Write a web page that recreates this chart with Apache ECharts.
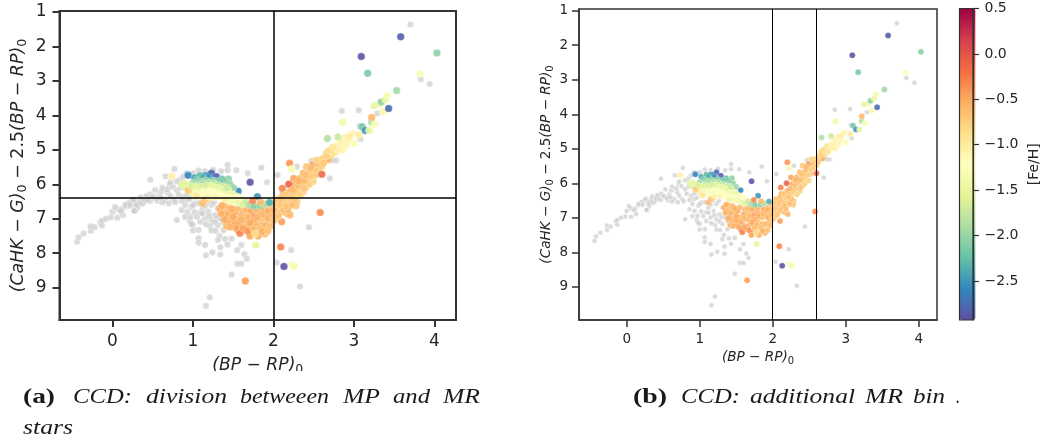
<!DOCTYPE html>
<html>
<head>
<meta charset="utf-8">
<title>CCD</title>
<script src="https://cdn.jsdelivr.net/npm/echarts@6/dist/echarts.min.js"></script>
<style>
html, body { margin: 0; padding: 0; background: #fff; }
#main { width: 1042px; height: 444px; }
</style>
</head>
<body>
<div id="main"></div>
<script>
// stars without a metallicity, [BP-RP, CaHK-G-2.5(BP-RP)]
var greyLeft = [
    [-0.44,7.67],[-0.42,7.54],[-0.36,7.43],[-0.27,7.35],[-0.27,7.22],[-0.22,7.25],[-0.15,7.10],[-0.13,7.20],
    [-0.13,7.06],[-0.02,6.96],[0.06,6.97],[0.13,6.89],[0.00,6.80],[0.06,6.72],[0.12,6.72],[0.03,6.66],
    [0.18,6.63],[0.28,6.77],[0.31,6.67],[0.24,6.50],[0.37,6.57],[0.34,6.46],[0.42,6.34],[0.47,6.48],
    [0.56,6.48],[0.47,5.87],[0.53,6.17],[0.20,6.55],[0.29,6.52],[0.35,6.38],[0.47,6.30],[0.58,6.33],
    [0.52,6.40],[0.27,6.77],[0.38,6.53],[0.65,6.46],[0.55,6.42],[0.42,6.36],[0.34,6.55],
    [0.10,6.78],[0.16,6.60],[0.22,6.62],[0.26,6.44],[0.30,6.60],[0.40,6.44],[0.44,6.46],[0.50,6.36],
    [0.62,6.52],[-0.08,7.00]
];
var greyMiddle = [
    [0.77,5.56],[0.66,5.77],[0.86,6.75],[0.80,7.04],[0.76,6.46],[0.92,6.46],[0.69,6.26],[0.61,6.21],
    [0.71,6.02],[0.80,6.17],[0.84,5.87],[0.92,5.68],[1.07,5.60],[1.09,5.73],[0.88,6.36],[0.98,6.65],
    [1.03,6.55],[0.96,7.06],[0.97,6.94],[1.02,6.81],[1.09,6.84],[1.19,6.80],[1.15,6.99],[1.23,7.04],
    [1.31,7.18],[1.09,7.09],[1.21,7.21],[1.38,7.33],[1.23,6.60],[1.31,6.70],[1.00,7.18],[1.00,7.34],
    [1.07,7.33],[1.23,7.34],[1.28,7.35],[1.33,7.50],[1.31,7.62],[1.40,7.59],[1.48,7.58],[1.07,7.57],
    [1.07,7.70],[1.15,7.76],[1.43,7.75],[1.34,7.83],[1.34,8.04],[1.24,7.98],[1.16,8.06],[1.55,7.91],
    [1.60,7.76],[1.64,8.03],[1.67,8.16],[1.55,8.31],[1.60,8.31],[1.48,8.62],[1.21,9.28],[1.16,9.53],
    [0.90,6.60],[1.12,6.70],[1.27,6.90],[1.05,6.95],[0.93,6.30],[0.72,6.35],[0.85,6.10],[1.38,7.10],
    [0.62,6.10],[0.68,6.15],[0.75,6.08],[0.82,6.30],[0.78,6.52],[0.86,6.48],[0.70,6.55],[0.60,6.40],
    [0.96,6.42],[1.00,6.60],[1.08,6.55],[1.15,6.62],[1.12,6.85],[1.20,6.92],[1.30,6.98],[0.93,6.80],
    [0.98,7.15],[0.90,6.95],[1.16,7.16],[1.27,7.10],[1.35,7.00],[1.42,7.25],[1.18,6.50],[1.26,6.52],
    [0.72,5.95],[0.80,5.92],[0.88,5.78],[1.00,5.68],[1.15,5.62],[1.25,5.58],[1.35,5.62]
];
var greyRight = [
    [1.43,5.44],[1.43,5.59],[1.54,5.59],[1.68,5.68],[1.85,5.52],[1.92,5.94],[2.05,5.73],[2.29,5.49],
    [2.47,5.32],[2.70,5.83],[2.78,5.31],[2.44,7.25],[2.22,7.91],[2.04,8.27],[2.33,8.97],[2.74,5.30],
    [2.85,3.87],[3.06,3.85],[3.07,4.31],[3.08,4.69],[3.29,3.94],[3.70,1.36],[3.83,2.95],[3.94,3.09]
];
// stars with a metallicity, [BP-RP, CaHK-G-2.5(BP-RP), [Fe/H]]
var capStars = [
    [0.735,5.77,-1.05],[0.94,5.74,-2.6],[1.02,5.81,-2.4],[1.09,5.75,-2.3],[1.15,5.75,-2.55],[1.19,5.75,-2.6],
    [1.23,5.68,-2.75],[1.29,5.78,-2.85],[1.13,5.85,-2.25],[1.05,5.88,-2.2],[1.21,5.85,-2.4],[1.27,5.90,-2.3],
    [1.44,5.85,-2.05],[1.40,5.93,-2.1],[1.46,6.00,-2.0],[1.71,5.94,-2.9],[1.56,6.20,-2.6],[1.80,6.36,-2.5],
    [1.20,5.80,-2.5],[1.12,5.80,-2.35],[1.36,5.85,-2.2],[1.33,5.92,-2.15],[1.24,5.90,-2.1],[1.16,5.90,-2.05],
    [1.08,5.92,-2.0],[1.50,6.10,-2.0],
    [0.86,6.02,-1.6],[0.89,6.07,-1.6],[0.94,6.02,-1.65],[1.00,5.97,-1.95],[1.07,6.02,-1.8],[1.13,5.97,-1.9],
    [1.19,5.97,-1.85],[1.25,5.97,-1.8],[1.31,6.02,-1.75],[1.38,6.07,-1.7],[1.44,6.17,-1.6],[0.96,6.17,-1.5],
    [1.02,6.12,-1.6],[1.09,6.17,-1.5],[1.15,6.12,-1.55],[1.21,6.12,-1.45],[1.27,6.17,-1.4],[1.34,6.22,-1.35],
    [1.40,6.26,-1.4],[1.46,6.29,-1.5],[1.17,6.26,-1.3],[1.23,6.29,-1.25],[1.29,6.31,-1.25],[1.11,6.31,-1.3],
    [1.36,6.36,-1.3],[1.00,6.26,-1.0],[0.94,6.17,-0.7],[1.12,6.55,-0.6],[1.15,6.46,-0.65],[1.18,6.42,-0.75],
    [0.90,5.98,-1.55],[0.98,6.05,-1.65],[1.04,6.08,-1.55],[1.11,6.07,-1.6],[1.17,6.05,-1.65],[1.23,6.05,-1.55],
    [1.30,6.10,-1.5],[1.36,6.15,-1.5],[1.42,6.10,-1.7],[1.50,6.30,-1.5],[1.55,6.36,-1.3],[1.60,6.42,-1.25],
    [1.05,6.24,-1.35],[1.13,6.22,-1.3],[1.20,6.20,-1.25],[1.27,6.25,-1.2],[1.33,6.30,-1.2],
    [1.40,6.40,-1.2],[1.46,6.40,-1.25],[1.20,6.36,-1.1],[1.28,6.38,-1.1],[1.04,6.35,-0.95],[1.40,6.48,-1.0]
];
var orangeStars = [
    [1.335,6.70,-0.52],[1.397,6.65,-0.6],[1.376,6.80,-0.55],[1.439,6.75,-0.62],[1.418,6.94,-0.52],[1.480,6.84,-0.6],
    [1.459,7.04,-0.55],[1.418,7.21,-0.6],[1.501,7.18,-0.52],[1.563,7.33,-0.22],[1.583,7.18,-0.48],[1.542,6.99,-0.6],
    [1.604,6.89,-0.52],[1.666,6.84,-0.62],[1.646,7.04,-0.52],[1.708,6.99,-0.6],[1.666,7.23,-0.55],[1.728,7.18,-0.48],
    [1.790,7.09,-0.62],[1.853,6.99,-0.66],[1.915,6.89,-0.62],[1.977,6.84,-0.66],[1.853,7.18,-0.6],[1.894,7.33,-0.7],
    [1.790,7.33,-0.85],[1.728,7.42,-0.34],[1.810,7.50,-0.55],[1.708,7.50,-0.48],[1.646,7.33,-0.52],[1.583,7.42,-0.3],
    [1.894,7.44,-0.62],[1.956,7.09,-0.6],[2.018,6.99,-0.66],[1.790,6.84,-0.52],[1.873,6.75,-0.48],[1.935,6.70,-0.6],
    [1.977,6.60,-0.66],[2.039,6.70,-0.6],[2.080,6.60,-0.62],[2.039,6.84,-0.7],[2.101,6.80,-0.62],[2.163,6.65,-0.52],
    [2.225,6.55,-0.66],[2.287,6.51,-0.7],[2.122,6.46,-0.66],[2.205,6.36,-0.6],[2.101,7.09,-0.45],[2.163,6.84,-0.66],
    [2.205,6.89,-0.6],[1.52,6.80,-0.48],[1.62,6.75,-0.6],[1.74,6.92,-0.45],[1.84,6.88,-0.52],[1.50,7.08,-0.48],
    [1.36,6.62,-0.55],[1.45,6.66,-0.6],[1.55,6.70,-0.6],[1.48,6.72,-0.54],[1.42,6.86,-0.58],[1.50,6.95,-0.52],
    [1.44,7.10,-0.6],[1.56,7.12,-0.54],[1.60,7.02,-0.58],[1.68,6.95,-0.6],[1.75,7.05,-0.52],[1.80,6.95,-0.55],
    [1.87,6.88,-0.6],[1.93,6.98,-0.54],[1.98,6.92,-0.6],[1.71,7.12,-0.52],[1.78,7.22,-0.56],[1.62,7.28,-0.48],
    [1.68,7.36,-0.4],[1.75,7.30,-0.62],[1.84,7.28,-0.66],[1.90,7.18,-0.6],[1.96,7.22,-0.64],[2.00,7.05,-0.68],
    [1.86,7.38,-0.54],[1.77,7.44,-0.85],[1.93,7.36,-0.66],[1.53,7.26,-0.5],[1.46,7.24,-0.56],[1.39,7.02,-0.52],
    [1.35,6.85,-0.54],[1.66,6.72,-0.6],[1.72,6.75,-0.5],[1.79,6.72,-0.58],
    [1.93,6.78,-0.54],[2.00,6.74,-0.6],[2.06,6.92,-0.68],[2.12,6.72,-0.64],[2.18,6.74,-0.6],[2.10,6.55,-0.54],
    [2.16,6.52,-0.68],[2.25,6.45,-0.62],[2.28,6.62,-0.7],[2.02,6.56,-0.6]
];
var arcStars = [
    [1.46,6.50,-1.35],[1.52,6.48,-1.4],[1.56,6.54,-1.45],[1.62,6.58,-1.6],[1.66,6.52,-1.7],[1.70,6.60,-1.9],
    [1.76,6.62,-2.1],[1.83,6.62,-2.05],[1.88,6.58,-1.9],[1.95,6.53,-2.35],[1.74,6.48,-0.3],[1.84,6.52,-0.6]
];
var bandStars = [
    [2.04,6.46,-0.7],[2.08,6.60,-0.72],[2.16,6.65,-0.68],[2.23,6.60,-0.65],[2.12,6.31,-0.45],[2.18,6.41,-0.75],
    [2.20,6.22,-0.55],[2.25,6.31,-0.72],[2.31,6.17,-0.62],[2.37,6.22,-0.78],[2.27,6.02,-0.5],[2.35,5.97,-0.62],
    [2.41,6.07,-0.72],[2.33,5.83,-0.58],[2.43,5.83,-0.68],[2.49,5.92,-0.78],[2.37,5.68,-0.62],[2.45,5.63,-0.58],
    [2.52,5.73,-0.68],[2.41,5.49,-0.7],[2.49,5.44,-0.42],[2.56,5.54,-0.65],[2.60,5.71,-0.15],[2.58,5.30,-0.7],
    [2.64,5.20,-0.8],[2.68,5.28,-0.52],[2.68,5.05,-0.76],[2.72,5.15,-0.82],[2.62,5.25,-0.76],[2.66,5.10,-0.82],
    [2.76,4.96,-1.05],[2.80,4.86,-1.1],[2.84,4.86,-1.05],[2.86,5.00,-1.1],[2.89,4.65,-1.05],[2.92,4.76,-1.1],
    [3.00,4.81,-1.3],[2.98,4.53,-1.1],[3.06,4.57,-1.0],[2.20,5.39,-0.4],[2.225,5.56,-1.35],[2.19,6.00,-0.1],
    [2.11,6.12,-0.3],[2.25,5.83,-0.5],
    [2.10,6.40,-0.66],[2.15,6.30,-0.72],[2.22,6.40,-0.7],[2.28,6.24,-0.72],[2.33,6.32,-0.78],[2.24,6.15,-0.58],
    [2.30,6.05,-0.66],[2.38,6.12,-0.68],[2.44,6.00,-0.76],[2.38,5.90,-0.62],[2.31,5.90,-0.55],[2.47,5.76,-0.72],
    [2.40,5.74,-0.66],[2.52,5.60,-0.72],[2.46,5.52,-0.62],[2.55,5.40,-0.6],[2.60,5.48,-0.75],[2.53,5.30,-0.78],
    [2.62,5.38,-0.7],[2.66,5.18,-0.78],[2.70,5.02,-0.85],[2.76,5.08,-0.9],[2.80,4.98,-1.05],[2.74,4.92,-0.95],
    [2.90,4.88,-1.1],[2.94,4.62,-1.0],[2.84,4.74,-1.08]
];
var upperStars = [
    [2.67,4.67,-1.85],[2.80,4.63,-1.7],[2.86,4.20,-1.4],[3.10,4.33,-2.15],[3.14,4.44,-2.5],[3.19,4.44,-1.5],
    [3.22,4.20,-1.9],[3.26,4.26,-1.3],[3.22,4.06,-0.6],[3.36,3.89,-1.1],[3.43,3.80,-2.75],[3.25,3.72,-1.55],
    [3.31,3.67,-1.45],[3.34,3.61,-2.05],[3.39,3.54,-1.5],[3.41,3.43,-1.35],[3.53,3.28,-1.95],[3.82,2.79,-1.3],
    [3.17,2.78,-2.15],[4.03,2.19,-2.05],[3.09,2.29,-2.9],[3.58,1.72,-2.85]
];
var lowerStars = [
    [1.78,7.76,-1.55],[2.09,7.82,-0.3],[2.13,8.39,-2.9],[2.23,8.34,-1.3],[2.26,8.39,-1.35],[1.65,8.81,-0.45],[2.58,6.82,-0.35]
];

var xTicks = [0, 1, 2, 3, 4];
var yTicks = [1, 2, 3, 4, 5, 6, 7, 8, 9];
var fehTicks = [0.5, 0, -0.5, -1, -1.5, -2, -2.5];
var fehColors = ['#5e4fa2', '#3288bd', '#66c2a5', '#abdda4', '#e6f598', '#ffffbf', '#fee08b', '#fdae61', '#f46d43', '#d53e4f', '#9e0142'];
var splitAY = 6.4;
var splitAX = [2];
var splitBX = [2, 2.6];

var greyStars = greyLeft.concat(greyMiddle, greyRight);
var colorStars = capStars.concat(orangeStars, arcStars, bandStars, upperStars, lowerStars);

var textColor = '#262626';
var lineColor = '#333333';

function mathName(size, subSize, parts) {
    return {
        text: parts,
        rich: {
            i: { fontFamily: 'DejaVu Sans', fontStyle: 'italic', fontSize: size, color: textColor },
            r: { fontFamily: 'DejaVu Sans', fontSize: size, color: textColor },
            s: { fontFamily: 'DejaVu Sans', fontSize: subSize, color: textColor, padding: [size * 0.55, 0, 0, 0] }
        }
    };
}

function xAxisOf(gridIndex, min, max, tickSize, nameText, nameGap, lw, margin) {
    return {
        type: 'value', gridIndex: gridIndex, min: min, max: max, position: 'bottom',
        name: nameText.text, nameLocation: 'middle', nameGap: nameGap,
        nameTextStyle: { rich: nameText.rich },
        splitLine: { show: false },
        axisLine: { onZero: false, lineStyle: { color: lineColor, width: lw } },
        axisTick: { customValues: xTicks, length: 7, lineStyle: { color: lineColor, width: lw } },
        axisLabel: { customValues: xTicks, fontFamily: 'DejaVu Sans', fontSize: tickSize, color: textColor, margin: margin }
    };
}

function yAxisOf(gridIndex, min, max, tickSize, nameText, nameGap, lw, margin) {
    return {
        type: 'value', gridIndex: gridIndex, min: min, max: max, inverse: true, position: 'left',
        name: nameText.text, nameLocation: 'middle', nameGap: nameGap, nameRotate: 90,
        nameTextStyle: { rich: nameText.rich },
        splitLine: { show: false },
        axisLine: { onZero: false, lineStyle: { color: lineColor, width: lw } },
        axisTick: { customValues: yTicks, length: 7, lineStyle: { color: lineColor, width: lw } },
        axisLabel: {
            customValues: yTicks, fontFamily: 'DejaVu Sans', fontSize: tickSize, color: textColor, margin: margin,
            verticalAlignMinLabel: 'middle', verticalAlignMaxLabel: 'middle'
        }
    };
}

function starSeries(axisIndex, greySize, colorSize, vLines, hLine, lw) {
    var lines = vLines.map(function (v) { return { xAxis: v }; });
    if (hLine !== null) {
        lines.push({ yAxis: hLine });
    }
    return [
        {
            type: 'scatter', xAxisIndex: axisIndex, yAxisIndex: axisIndex, data: greyStars, symbolSize: greySize,
            itemStyle: { color: '#cccccc', opacity: 0.7, borderColor: '#fff', borderWidth: 0.6 },
            emphasis: { disabled: true }, z: 2
        },
        {
            type: 'scatter', xAxisIndex: axisIndex, yAxisIndex: axisIndex, data: colorStars, symbolSize: colorSize,
            itemStyle: { opacity: 0.9, borderColor: '#fff', borderWidth: 0.3 },
            emphasis: { disabled: true }, z: 3,
            markLine: {
                silent: true, symbol: 'none', animation: false, label: { show: false }, z: 5,
                lineStyle: { color: '#000', width: lw, type: 'solid' },
                data: lines
            }
        }
    ];
}

var xNameA = mathName(17.2, 12.5, '{i|(BP − RP)}{s|0}');
var yNameA = mathName(17.4, 12.8, '{i|(CaHK − G)}{s|0}{r| − 2.5}{i|(BP − RP)}{s|0}');
var xNameB = mathName(13.6, 10, '{i|(BP − RP)}{s|0}');
var yNameB = mathName(13.6, 10, '{i|(CaHK − G)}{s|0}{r| − 2.5}{i|(BP − RP)}{s|0}');

var measureCtx = document.createElement('canvas').getContext('2d');

// the caption words are stretched to the widths they have in the typeset line
function captionWord(text, x, y, right, bold) {
    var font = (bold ? 'bold' : 'italic') + ' 22px "Liberation Serif"';
    measureCtx.font = font;
    return {
        type: 'text', x: x, y: y, z: 20, scaleX: (right - x) / measureCtx.measureText(text).width,
        style: { text: text, fill: '#1a1a1a', font: font, textVerticalAlign: 'bottom' }
    };
}

var myChart = echarts.init(document.getElementById('main'), null, { renderer: 'canvas' });

var option = {
    animation: false,
    backgroundColor: '#fff',
    grid: [
        { left: 59.5, top: 11, width: 396.5, height: 309, show: true, borderColor: lineColor, borderWidth: 2 },
        { left: 579, top: 9, width: 358, height: 311, show: true, borderColor: lineColor, borderWidth: 1.5 },
        { left: 959.5, top: 8.5, width: 16, height: 311.5, show: true, borderColor: lineColor, borderWidth: 1.2, backgroundColor: 'transparent', z: 6 }
    ],
    xAxis: [
        xAxisOf(0, -0.658, 4.267, 17, xNameA, 34, 2, 13),
        xAxisOf(1, -0.653, 4.25, 13.5, xNameB, 29, 1.5, 12),
        { type: 'value', gridIndex: 2, min: 0, max: 1, show: false }
    ],
    yAxis: [
        yAxisOf(0, 0.97, 9.94, 17, yNameA, 30, 2, 13),
        yAxisOf(1, 0.95, 9.96, 13.5, yNameB, 22, 1.5, 11),
        {
            type: 'value', gridIndex: 2, min: -2.93, max: 0.5, position: 'right',
            splitLine: { show: false }, z: 6,
            axisLine: { onZero: false, lineStyle: { color: lineColor, width: 1.2 } },
            axisTick: { customValues: fehTicks, length: 6, lineStyle: { color: lineColor, width: 1.2 } },
            axisLabel: {
                customValues: fehTicks, fontFamily: 'DejaVu Sans', fontSize: 14, color: textColor, margin: 11.5,
                verticalAlignMinLabel: 'middle', verticalAlignMaxLabel: 'middle',
                formatter: function (v) { return (v < 0 ? '−' : '') + Math.abs(v).toFixed(1); }
            },
            name: '[Fe/H]', nameLocation: 'middle', nameGap: 54, nameRotate: 90,
            nameTextStyle: { fontFamily: 'DejaVu Sans', fontSize: 14, color: textColor }
        }
    ],
    visualMap: {
        type: 'continuous', seriesIndex: [1, 3], dimension: 2, min: -2.93, max: 0.5, calculable: false,
        left: 959.5, top: 8.5, itemWidth: 16, itemHeight: 311.5, text: ['', ''], textGap: 0, padding: 0,
        showLabel: false, hoverLink: false,
        inRange: { color: fehColors }
    },
    series: starSeries(0, 6.5, 7.5, splitAX, splitAY, 1.5).concat(starSeries(1, 5, 6, splitBX, null, 1)),
    graphic: [
        { type: 'rect', shape: { x: 0, y: 371, width: 1042, height: 73 }, style: { fill: '#fff' }, z: 15 },
        captionWord('(a)', 23, 408, 55, true),
        captionWord('CCD:', 73, 408, 132),
        captionWord('division', 146, 408, 227),
        captionWord('betweeen', 240, 408, 329),
        captionWord('MP', 343, 408, 380),
        captionWord('and', 393, 408, 430),
        captionWord('MR', 443, 408, 480),
        captionWord('stars', 23, 439, 73),
        captionWord('(b)', 633, 408, 667, true),
        captionWord('CCD:', 681, 408, 740),
        captionWord('additional', 750, 408, 855),
        captionWord('MR', 865, 408, 903),
        captionWord('bin', 913, 408, 945),
        captionWord('.', 956, 408, 960)
    ]
};

myChart.setOption(option);
window.addEventListener('resize', function () {
    myChart.resize();
});
</script>
</body>
</html>
